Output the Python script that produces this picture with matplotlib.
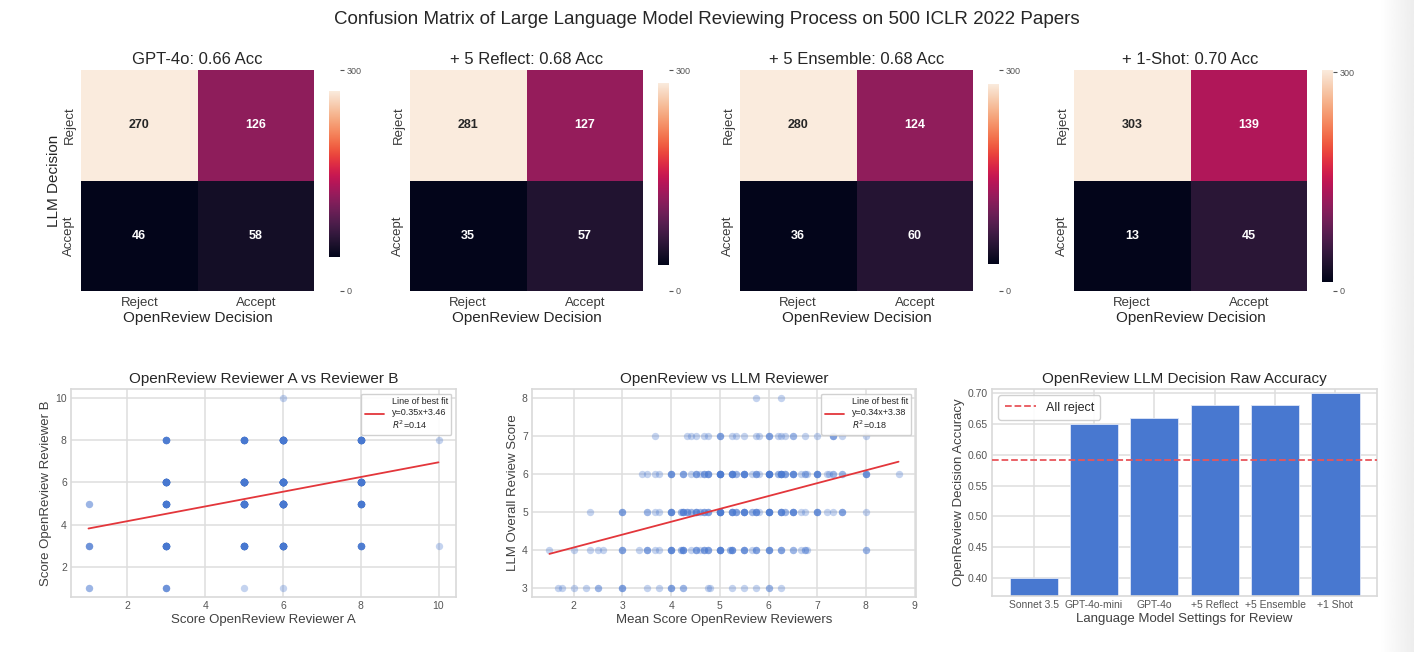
import numpy as np
import matplotlib
matplotlib.use("Agg")
import matplotlib.pyplot as plt
import seaborn as sns

# confusion matrices: rows = LLM decision (Reject, Accept), cols = OpenReview decision
cm_titles = ["GPT-4o: 0.66 Acc", "+ 5 Reflect: 0.68 Acc", "+ 5 Ensemble: 0.68 Acc", "+ 1-Shot: 0.70 Acc"]
cm_gpt4o = [[270, 126], [46, 58]]
cm_reflect = [[281, 127], [35, 57]]
cm_ensemble = [[280, 124], [36, 60]]
cm_oneshot = [[303, 139], [13, 45]]
decision_labels = ["Reject", "Accept"]

# reviewer A vs reviewer B scores (point, number of papers)
rev_a = [1, 1, 1, 3, 3, 3, 3, 3, 5, 5, 5, 5, 5, 6, 6, 6, 6, 6, 6, 8, 8, 8, 8, 10, 10]
rev_b = [1, 3, 5, 1, 3, 5, 6, 8, 1, 3, 5, 6, 8, 1, 3, 5, 6, 8, 10, 3, 5, 6, 8, 3, 8]
rev_n = [2, 4, 2, 4, 15, 15, 20, 8, 1, 15, 25, 30, 12, 1, 20, 30, 40, 25, 1, 8, 12, 20, 15, 1, 1]
ab_fit = (0.35, 3.46, 0.14)

# mean OpenReview score vs LLM score, one row per LLM score
row3_x = [1.67, 1.75, 2, 2.25, 2.5, 3, 3.5, 3.75, 4, 4.25, 4.75, 4.8, 5.25, 5.5, 5.75, 6, 6.25]
row3_n = [1, 1, 1, 1, 2, 3, 1, 1, 3, 2, 1, 1, 1, 1, 1, 2, 1]
row4_x = [1.5, 2, 2.33, 2.5, 2.6, 3, 3.33, 3.5, 3.67, 3.75, 4, 4.2, 4.25, 4.4, 4.5, 4.6, 4.67,
          4.75, 5, 5.2, 5.25, 5.5, 5.67, 5.75, 6, 6.25, 6.5, 6.67, 6.75, 6.8, 8]
row4_n = [1, 1, 1, 1, 1, 3, 1, 3, 1, 1, 5, 2, 4, 1, 3, 1, 3,
          3, 6, 2, 4, 4, 1, 3, 4, 3, 2, 1, 2, 1, 2]
row5_x = [2.33, 3, 3.5, 3.67, 3.75, 4, 4.2, 4.25, 4.33, 4.4, 4.5, 4.6, 4.67, 4.75, 5, 5.25,
          5.33, 5.5, 5.67, 5.75, 5.8, 6, 6.25, 6.33, 6.5, 6.67, 6.75, 7, 7.2, 7.33, 7.5, 8]
row5_n = [1, 3, 2, 1, 1, 5, 2, 4, 3, 2, 4, 2, 3, 3, 8, 5,
          3, 6, 2, 4, 1, 7, 5, 2, 5, 1, 1, 4, 1, 1, 3, 1]
row6_x = [3.4, 3.5, 3.67, 3.75, 4, 4.25, 4.4, 4.5, 4.6, 4.67, 4.75, 5, 5.25, 5.33, 5.5, 5.67,
          5.75, 5.8, 6, 6.2, 6.25, 6.33, 6.5, 6.67, 6.75, 6.8, 7, 7.2, 7.25, 7.33, 7.5, 8, 8.67]
row6_n = [1, 1, 1, 1, 4, 3, 1, 3, 1, 3, 4, 8, 6, 2, 6, 1,
          3, 1, 8, 2, 6, 3, 5, 1, 2, 1, 5, 1, 1, 2, 2, 4, 1]
row7_x = [3.67, 4.33, 4.4, 4.5, 4.67, 4.75, 5, 5.25, 5.33, 5.5, 5.75, 5.8, 6, 6.2, 6.25,
          6.33, 6.5, 6.75, 7, 7.33, 7.5, 8]
row7_n = [1, 1, 1, 1, 1, 1, 3, 1, 1, 1, 1, 1, 3, 1, 1,
          1, 2, 1, 1, 3, 1, 1]
row8_x = [5.75, 6.25]
row8_n = [1, 1]
llm_fit = (0.34, 3.38, 0.18)

# raw accuracy bars
settings = ["Sonnet 3.5", "GPT-4o-mini", "GPT-4o", "+5 Reflect", "+5 Ensemble", "+1 Shot"]
accuracy = [0.40, 0.65, 0.66, 0.68, 0.68, 0.70]
all_reject = 0.591

blue = "#4878d0"
red = "#e3363b"

sns.set_style("whitegrid")
plt.rcParams["font.family"] = ["Liberation Sans", "DejaVu Sans"]
plt.rcParams["text.color"] = "#262626"
plt.rcParams["axes.labelcolor"] = "#262626"

W, H = 1414, 652
fig = plt.figure(figsize=(W / 100, H / 100), dpi=100)


def px_axes(left, top, width, height):
    return fig.add_axes([left / W, 1 - (top + height) / H, width / W, height / H])


# faint shadow along the right edge of the screenshot
shade = px_axes(1380, 0, 34, H)
shade.imshow(np.linspace(1.0, 0.93, 64).reshape(1, -1), cmap="gray", vmin=0, vmax=1,
             aspect="auto", extent=[0, 1, 0, 1])
shade.set_axis_off()
shade.set_zorder(-5)

fig.text(0.5, 1 - 20 / H, "Confusion Matrix of Large Language Model Reviewing Process on 500 ICLR 2022 Papers",
         ha="center", va="center", fontsize=13.5)

cmap = sns.color_palette("rocket", as_cmap=True)
matrices = [cm_gpt4o, cm_reflect, cm_ensemble, cm_oneshot]
lefts = [81, 410, 740, 1074]
for i, (mat, title, left) in enumerate(zip(matrices, cm_titles, lefts)):
    mat = np.array(mat)
    ax = px_axes(left, 70, 233, 221)
    sns.heatmap(mat, ax=ax, cmap=cmap, cbar=False, annot=True, fmt="d",
                annot_kws={"fontsize": 9, "fontweight": "bold"},
                xticklabels=decision_labels, yticklabels=decision_labels)
    ax.set_title(title, fontsize=12, pad=4)
    ax.set_xlabel("OpenReview Decision", fontsize=11, labelpad=2)
    if i == 0:
        ax.set_ylabel("LLM Decision", fontsize=11, labelpad=2)
    ax.tick_params(axis="both", length=0, labelsize=9.5, labelcolor="#3a3a3a", pad=4)
    plt.setp(ax.get_yticklabels(), rotation=90, va="center")

    vmin, vmax = mat.min(), mat.max()
    cax = px_axes(left + 248, 70, 11, 221)
    grad = np.linspace(vmin, vmax, 256).reshape(-1, 1)
    cax.imshow(grad, cmap=cmap, aspect="auto", origin="lower",
               extent=[0, 1, vmin, vmax], vmin=vmin, vmax=vmax)
    cax.set_xlim(0, 1)
    cax.set_ylim(0, max(300, vmax))
    cax.grid(False)
    for s in cax.spines.values():
        s.set_visible(False)
    cax.set_xticks([])
    cax.set_yticks([0, 300])
    cax.yaxis.tick_right()
    cax.tick_params(axis="y", right=True, left=False, length=3, width=0.8, color="#555555",
                    labelsize=6.5, labelcolor="#555555", pad=1.5)

label_kw = {"fontsize": 9.5, "color": "#404040"}
tick_kw = {"labelsize": 7.5, "labelcolor": "#555555", "length": 0, "pad": 3}
legend_kw = {"loc": "upper right", "fontsize": 6.5, "handlelength": 2.2, "borderpad": 0.4,
             "labelspacing": 0.2, "framealpha": 0.9}

# reviewer A vs B
ax1 = px_axes(71, 389, 385, 208)
ax1.scatter(np.repeat(rev_a, rev_n), np.repeat(rev_b, rev_n), s=28, color=blue, alpha=0.32, linewidths=0)
fx = np.array([min(rev_a), max(rev_a)])
ax1.plot(fx, ab_fit[0] * fx + ab_fit[1], color=red, lw=1.3,
         label=f"Line of best fit\ny={ab_fit[0]}x+{ab_fit[1]}\n$R^2$={ab_fit[2]}")
ax1.set_xticks([2, 4, 6, 8, 10])
ax1.set_yticks([2, 4, 6, 8, 10])
ax1.set_title("OpenReview Reviewer A vs Reviewer B", fontsize=11, pad=4)
ax1.set_xlabel("Score OpenReview Reviewer A", labelpad=2, **label_kw)
ax1.set_ylabel("Score OpenReview Reviewer B", labelpad=2, **label_kw)
ax1.tick_params(**tick_kw)
ax1.legend(**legend_kw)

# OpenReview vs LLM
ax2 = px_axes(532, 389, 384, 208)
rows_x = [row3_x, row4_x, row5_x, row6_x, row7_x, row8_x]
rows_n = [row3_n, row4_n, row5_n, row6_n, row7_n, row8_n]
all_x = []
for score, xs, ns in zip([3, 4, 5, 6, 7, 8], rows_x, rows_n):
    xr = np.repeat(xs, ns)
    ax2.scatter(xr, np.full(len(xr), score), s=28, color=blue, alpha=0.32, linewidths=0)
    all_x.extend(xs)
fx = np.array([min(all_x), max(all_x)])
ax2.plot(fx, llm_fit[0] * fx + llm_fit[1], color=red, lw=1.3,
         label=f"Line of best fit\ny={llm_fit[0]}x+{llm_fit[1]}\n$R^2$={llm_fit[2]}")
ax2.set_xticks(range(2, 10))
ax2.set_yticks(range(3, 9))
ax2.set_title("OpenReview vs LLM Reviewer", fontsize=11, pad=4)
ax2.set_xlabel("Mean Score OpenReview Reviewers", labelpad=2, **label_kw)
ax2.set_ylabel("LLM Overall Review Score", labelpad=2, **label_kw)
ax2.tick_params(**tick_kw)
ax2.legend(**legend_kw)

# raw accuracy
ax3 = px_axes(992, 389, 385, 207)
ax3.bar(settings, accuracy, width=0.8, color=blue, edgecolor="#dfe7f7", linewidth=0.6, zorder=2)
ax3.axhline(all_reject, color="#e8555a", ls="--", lw=1.3, label="All reject", zorder=3)
ax3.set_ylim(0.371, 0.7065)
ax3.set_yticks([0.40, 0.45, 0.50, 0.55, 0.60, 0.65, 0.70])
ax3.set_title("OpenReview LLM Decision Raw Accuracy", fontsize=11, pad=4)
ax3.set_xlabel("Language Model Settings for Review", labelpad=2, **label_kw)
ax3.set_ylabel("OpenReview Decision Accuracy", labelpad=2, **label_kw)
ax3.tick_params(**tick_kw)
ax3.legend(loc="upper left", fontsize=9, handlelength=2.5, borderpad=0.5, framealpha=0.9)

for a in (ax1, ax2, ax3):
    for s in a.spines.values():
        s.set_color("#d9d9d9")
        s.set_linewidth(1.2)
    a.grid(color="#dedede", lw=1.1)
    a.set_axisbelow(True)

fig.savefig("out.png", dpi=100, facecolor="white")
